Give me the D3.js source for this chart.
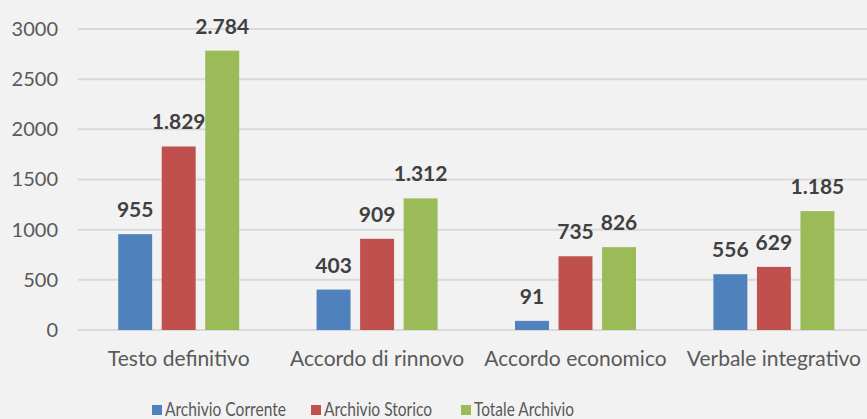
<!DOCTYPE html>
<html>
<head>
<meta charset="utf-8">
<script src="https://cdn.jsdelivr.net/npm/d3@7"></script>
<style>
  body { margin: 0; background: #f2f2f2; }
  svg { display: block; font-family: Lato, "Open Sans", sans-serif; }
</style>
</head>
<body>
<script>
// Dati
const categories = ["Testo definitivo", "Accordo di rinnovo", "Accordo economico", "Verbale integrativo"];
const seriesNames = ["Archivio Corrente", "Archivio Storico", "Totale Archivio"];
const corrente = [955, 403, 91, 556];
const storico = [1829, 909, 735, 629];
const totale = [2784, 1312, 826, 1185];
const yTicks = [0, 500, 1000, 1500, 2000, 2500, 3000];
const colors = ["#4f81bd", "#c0504d", "#9bbb59"];

const WIDTH = 867, HEIGHT = 419;

// tabella per d3
const values = [corrente, storico, totale];
const rows = categories.map((c, i) => ({
    cat: c,
    vals: seriesNames.map((s, j) => ({ series: s, value: values[j][i] }))
}));

const it = d3.formatLocale({ decimal: ",", thousands: ".", grouping: [3], currency: ["€", ""] });
const fmt = it.format(",d");

const svg = d3.select("body").append("svg")
    .attr("width", WIDTH)
    .attr("height", HEIGHT);

svg.append("rect")
    .attr("width", WIDTH)
    .attr("height", HEIGHT)
    .attr("fill", "#f2f2f2");

let x0 = d3.scaleBand()
    .domain(categories)
    .range([79.5, 79.5 + 4 * 198.4]);

let x1 = d3.scaleBand()
    .domain(seriesNames)
    .range([38.7, x0.bandwidth() - 38.7])
    .paddingInner(0.22);

let y = d3.scaleLinear()
    .domain([0, 3000])
    .range([330, 29]);

// griglia
svg.append("g")
    .selectAll("line")
    .data(yTicks)
    .enter().append("line")
        .attr("x1", 78)
        .attr("x2", WIDTH)
        .attr("y1", d => y(d))
        .attr("y2", d => y(d))
        .attr("stroke", "#d9d9d9")
        .attr("stroke-width", 2);

// asse y
let yAxis = svg.append("g")
    .attr("transform", "translate(78,0)")
    .call(d3.axisLeft(y).tickValues(yTicks).tickSize(0).tickPadding(20).tickFormat(d3.format("d")));
yAxis.select(".domain").remove();
yAxis.selectAll("text")
    .attr("font-family", "Lato, 'Open Sans', sans-serif")
    .attr("font-size", 20)
    .attr("fill", "#595959");

// asse x (solo etichette)
let xAxis = svg.append("g")
    .attr("transform", "translate(0,330)")
    .call(d3.axisBottom(x0).tickSize(0).tickPadding(21));
xAxis.select(".domain").remove();
xAxis.selectAll("text")
    .attr("font-family", "Lato, 'Open Sans', sans-serif")
    .attr("font-size", 21)
    .attr("fill", "#595959");

// barre
let groups = svg.selectAll(".group")
    .data(rows)
    .enter().append("g")
        .attr("class", "group")
        .attr("transform", d => "translate(" + x0(d.cat) + ",0)");

groups.selectAll("rect")
    .data(d => d.vals)
    .enter().append("rect")
        .attr("x", d => x1(d.series))
        .attr("width", x1.bandwidth())
        .attr("y", d => y(d.value))
        .attr("height", d => y(0) - y(d.value))
        .attr("fill", (d, i) => colors[i]);

groups.selectAll(".lbl")
    .data(d => d.vals)
    .enter().append("text")
        .attr("class", "lbl")
        .attr("x", d => x1(d.series) + x1.bandwidth() / 2)
        .attr("y", d => y(d.value) - 17)
        .attr("text-anchor", "middle")
        .attr("font-size", 21)
        .attr("font-weight", "bold")
        .attr("fill", "#404040")
        .text(d => fmt(d.value));

// legenda
const legendX = [152, 311, 461];
const legendW = [121, 108, 100];
let legend = svg.append("g")
    .selectAll("g")
    .data(seriesNames)
    .enter().append("g")
        .attr("transform", (d, i) => "translate(" + legendX[i] + ",405)");

legend.append("rect")
    .attr("width", 10)
    .attr("height", 10)
    .attr("fill", (d, i) => colors[i]);

legend.append("text")
    .attr("x", 13)
    .attr("y", 11)
    .attr("font-size", 20)
    .attr("fill", "#595959")
    .attr("textLength", (d, i) => legendW[i])
    .attr("lengthAdjust", "spacingAndGlyphs")
    .text(d => d);
</script>
</body>
</html>
